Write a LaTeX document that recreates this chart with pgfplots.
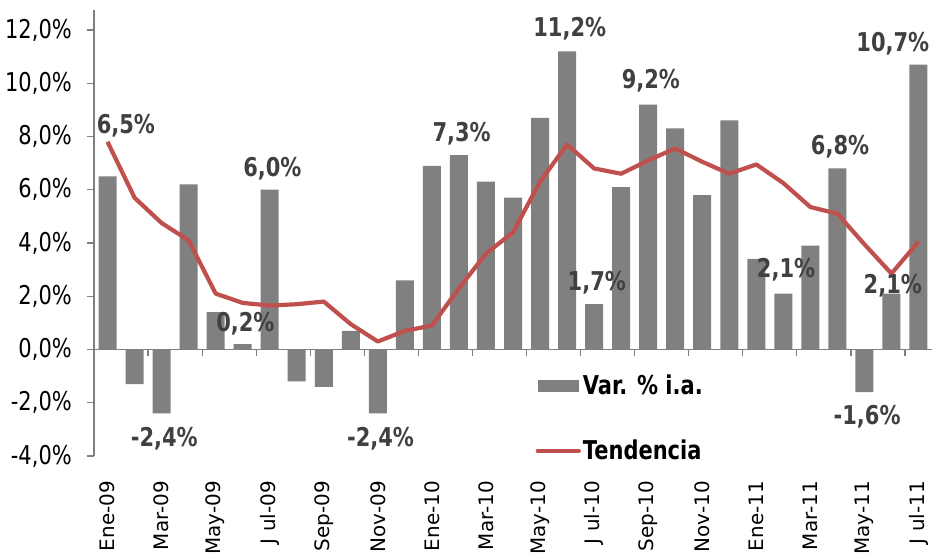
\documentclass[border=0pt]{standalone}
\usepackage{fontspec}
\setmainfont{DejaVu Sans}
\newfontfamily\cond[FakeStretch=0.81]{DejaVu Sans}
\usepackage{pgfplots}
\usepackage{pgfplotstable}
\pgfplotsset{compat=1.18}
\definecolor{bargray}{HTML}{808080}
\definecolor{trendred}{HTML}{C0504D}
\definecolor{lblgray}{HTML}{404040}

\pgfplotstableread{
m var
0 6.5
1 -1.3
2 -2.4
3 6.2
4 1.4
5 0.2
6 6.0
7 -1.2
8 -1.4
9 0.7
10 -2.4
11 2.6
12 6.9
13 7.3
14 6.3
15 5.7
16 8.7
17 11.2
18 1.7
19 6.1
20 9.2
21 8.3
22 5.8
23 8.6
24 3.4
25 2.1
26 3.9
27 6.8
28 -1.6
29 2.1
30 10.7
}\vartable

\pgfplotstableread{
m trend
0 7.8
1 5.7
2 4.75
3 4.1
4 2.1
5 1.75
6 1.65
7 1.7
8 1.8
9 0.95
10 0.3
11 0.7
12 0.9
13 2.3
14 3.6
15 4.4
16 6.3
17 7.7
18 6.8
19 6.6
20 7.1
21 7.55
22 7.05
23 6.6
24 6.95
25 6.25
26 5.35
27 5.1
28 3.95
29 2.85
30 4.05
}\trendtable

\newcommand{\lbl}[3]{\node[font=\cond\bfseries\fontsize{26}{26}\selectfont, text=lblgray, inner sep=0pt] at (axis cs:#1,#2) {#3};}

\begin{document}
\begin{tikzpicture}
\begin{axis}[
  scale only axis,
  width=838bp, height=446bp,
  xmin=-0.5, xmax=30.5,
  ymin=-4, ymax=12.75,
  axis y line=left,
  axis x line=bottom,
  x axis line style={draw=none},
  y axis line style={-, draw=bargray, line width=1.2bp},
  xtick={0,2,...,30},
  xticklabels={Ene-09,Mar-09,May-09,J ul-09,Sep-09,Nov-09,Ene-10,Mar-10,May-10,J ul-10,Sep-10,Nov-10,Ene-11,Mar-11,May-11,J ul-11},
  xtick style={draw=none},
  xticklabel style={rotate=90, anchor=east, inner sep=0pt, font=\fontsize{20}{20}\selectfont},
  xticklabel shift=18bp,
  ytick={-4,-2,...,12},
  yticklabels={{-4,0\%},{-2,0\%},{0,0\%},{2,0\%},{4,0\%},{6,0\%},{8,0\%},{10,0\%},{12,0\%}},
  yticklabel style={anchor=east, inner sep=0pt, xshift=-15bp, font=\cond\fontsize{26}{26}\selectfont},
  ytick style={draw=bargray, line width=1.2bp},
  tick align=outside,
  major tick length=7bp,
  clip=false,
  legend style={at={(axis cs:15.72,-0.8)}, anchor=north west, draw=none, fill=none,
    font=\cond\bfseries\fontsize{26}{26}\selectfont, row sep=40bp,
    /tikz/every even column/.append style={column sep=4bp}},
  legend cell align=left,
]
\draw[bargray, line width=1.2bp] (axis cs:-0.5,0) -- (axis cs:30.5,0);
\pgfplotsinvokeforeach{-0.5,1.5,...,29.5}{\draw[bargray, line width=1.2bp] (axis cs:#1,0) -- ++(0pt,-7bp);}
\addplot[ybar, bar width=18bp, bar shift=0pt, fill=bargray, draw=none,
  legend image code/.code={\fill[bargray] (0bp,-6bp) rectangle (41bp,6bp);}]
  table[x=m, y=var] {\vartable};
\addlegendentry{Var. \% i.a.}
\addplot[trendred, line width=4.2bp, line join=round, mark=none,
  legend image code/.code={\draw[trendred, line width=4.2bp, line cap=round] (0bp,0bp) -- (41bp,0bp);}]
  table[x=m, y=trend] {\trendtable};
\addlegendentry{Tendencia}
\lbl{0.68}{8.42}{6,5\%}
\lbl{2.1}{-3.37}{-2,4\%}
\lbl{5.1}{0.98}{0,2\%}
\lbl{6.1}{6.8}{6,0\%}
\lbl{10.1}{-3.37}{-2,4\%}
\lbl{13.1}{8.12}{7,3\%}
\lbl{17.1}{12.03}{11,2\%}
\lbl{18.1}{2.52}{1,7\%}
\lbl{20.1}{10.11}{9,2\%}
\lbl{25.1}{3.0}{2,1\%}
\lbl{27.1}{7.6}{6,8\%}
\lbl{28.1}{-2.52}{-1,6\%}
\lbl{29.05}{2.41}{2,1\%}
\lbl{29.05}{11.5}{10,7\%}
\end{axis}
\pgfresetboundingbox
\path ([shift={(-94bp,-100bp)}]current axis.south west) rectangle ([shift={(0bp,10bp)}]current axis.north east);
\end{tikzpicture}
\end{document}
